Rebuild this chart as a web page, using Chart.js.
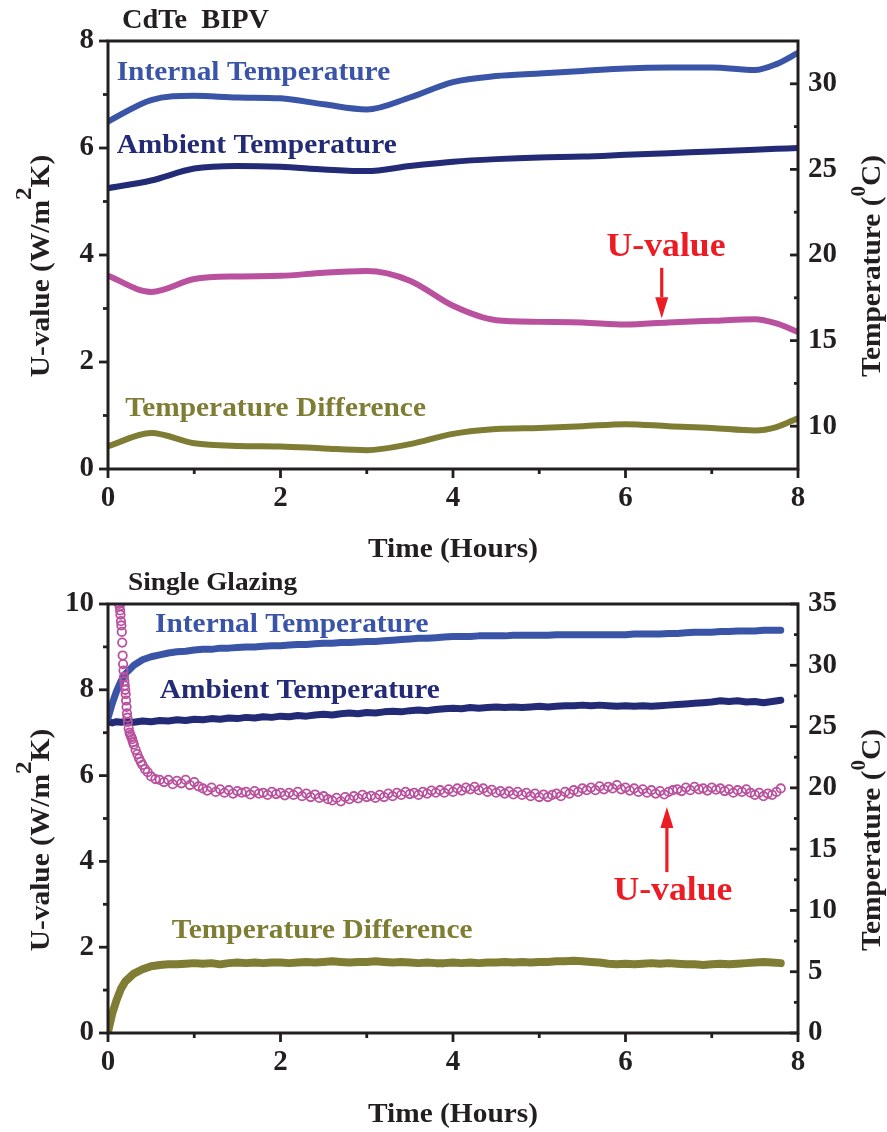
<!DOCTYPE html>
<html>
<head>
<meta charset="utf-8">
<script src="https://cdn.jsdelivr.net/npm/chart.js@4.4.1/dist/chart.umd.min.js"></script>
<style>
  html, body { margin: 0; padding: 0; background: #fff; }
  canvas { display: block; }
</style>
</head>
<body>
<canvas id="topChart" width="887" height="570"></canvas>
<canvas id="bottomChart" width="887" height="562"></canvas>
<script>
// ---- CdTe BIPV (top panel) ----
const topHours    = [0, 0.5, 1, 1.5, 2, 2.5, 3, 3.5, 4, 4.5, 5, 5.5, 6, 6.5, 7, 7.5, 7.75, 8];
const topInternal = [27.8, 29.05, 29.3, 29.2, 29.15, 28.8, 28.5, 29.2, 30.1, 30.45, 30.6, 30.75, 30.9, 30.95, 30.95, 30.8, 31.15, 31.8];
const topAmbient  = [23.9, 24.35, 25.05, 25.2, 25.15, 25.0, 24.9, 25.2, 25.45, 25.6, 25.7, 25.75, 25.85, 25.95, 26.05, 26.15, 26.2, 26.25];
const topUValue   = [3.61, 3.31, 3.55, 3.6, 3.61, 3.67, 3.7, 3.52, 3.05, 2.78, 2.75, 2.74, 2.7, 2.74, 2.77, 2.8, 2.72, 2.56];
const topDiff     = [8.83, 9.6, 9.0, 8.85, 8.82, 8.7, 8.6, 8.95, 9.55, 9.83, 9.9, 10.0, 10.12, 10.0, 9.9, 9.75, 9.95, 10.47];

// ---- Single Glazing (bottom panel) ----
const botHours = [0, 0.05, 0.1, 0.15, 0.2,
  0.3, 0.4, 0.5, 0.6, 0.7, 0.8, 0.9, 1,
  1.1, 1.2, 1.3, 1.4, 1.5, 1.6, 1.7, 1.8, 1.9, 2,
  2.1, 2.2, 2.3, 2.4, 2.5, 2.6, 2.7, 2.8, 2.9, 3,
  3.1, 3.2, 3.3, 3.4, 3.5, 3.6, 3.7, 3.8, 3.9, 4,
  4.1, 4.2, 4.3, 4.4, 4.5, 4.6, 4.7, 4.8, 4.9, 5,
  5.1, 5.2, 5.3, 5.4, 5.5, 5.6, 5.7, 5.8, 5.9, 6,
  6.1, 6.2, 6.3, 6.4, 6.5, 6.6, 6.7, 6.8, 6.9, 7,
  7.1, 7.2, 7.3, 7.4, 7.5, 7.6, 7.7, 7.8];
const botInternal = [25.7, 26.9, 27.9, 28.7, 29.3,
  30.0, 30.45, 30.7, 30.85, 31.0, 31.1, 31.15, 31.25,
  31.3, 31.3, 31.4, 31.4, 31.45, 31.5, 31.5, 31.55, 31.6, 31.6,
  31.65, 31.7, 31.7, 31.75, 31.8, 31.8, 31.85, 31.85, 31.9, 31.95,
  31.95, 32.0, 32.05, 32.1, 32.15, 32.2, 32.2, 32.25, 32.3, 32.35,
  32.35, 32.35, 32.4, 32.4, 32.4, 32.4, 32.45, 32.45, 32.45, 32.45,
  32.45, 32.5, 32.5, 32.5, 32.5, 32.5, 32.5, 32.5, 32.5, 32.5,
  32.55, 32.55, 32.55, 32.55, 32.6, 32.6, 32.65, 32.7, 32.7, 32.7,
  32.75, 32.75, 32.8, 32.8, 32.8, 32.85, 32.85, 32.85];
const botAmbient = [25.4, 25.3, 25.4, 25.35, 25.4,
  25.35, 25.45, 25.4, 25.5, 25.45, 25.55, 25.5, 25.6,
  25.55, 25.65, 25.6, 25.7, 25.65, 25.75, 25.7, 25.8, 25.75, 25.85,
  25.8, 25.9, 25.85, 25.95, 26.0, 25.95, 26.05, 26.1, 26.05, 26.15,
  26.1, 26.2, 26.25, 26.2, 26.3, 26.35, 26.3, 26.4, 26.45, 26.5,
  26.45, 26.55, 26.5, 26.55, 26.6, 26.55, 26.6, 26.55, 26.6, 26.65,
  26.6, 26.65, 26.7, 26.7, 26.75, 26.7, 26.75, 26.7, 26.65, 26.7,
  26.65, 26.7, 26.65, 26.7, 26.75, 26.8, 26.85, 26.9, 26.95, 27.0,
  27.1, 27.05, 27.1, 27.0, 27.05, 26.95, 27.05, 27.15];
const botDiff = [0.1, 1.6, 2.7, 3.6, 4.2,
  4.85, 5.2, 5.45, 5.55, 5.6, 5.6, 5.65, 5.7,
  5.65, 5.7, 5.6, 5.7, 5.75, 5.7, 5.75, 5.7, 5.75, 5.75,
  5.7, 5.75, 5.8, 5.75, 5.8, 5.85, 5.8, 5.75, 5.8, 5.8,
  5.85, 5.8, 5.75, 5.8, 5.75, 5.7, 5.75, 5.7, 5.7, 5.75,
  5.7, 5.75, 5.7, 5.75, 5.75, 5.8, 5.75, 5.8, 5.75, 5.8,
  5.8, 5.85, 5.85, 5.9, 5.85, 5.8, 5.75, 5.65, 5.6, 5.65,
  5.6, 5.65, 5.7, 5.65, 5.7, 5.65, 5.6, 5.6, 5.55, 5.6,
  5.65, 5.6, 5.65, 5.7, 5.75, 5.8, 5.75, 5.7];
const uHours = [0.13, 0.135, 0.14, 0.145, 0.15, 0.155, 0.16, 0.165, 0.17, 0.175,
  0.18, 0.185, 0.19, 0.195, 0.2, 0.205, 0.21, 0.215, 0.22, 0.225,
  0.23, 0.24, 0.25, 0.26, 0.27, 0.28, 0.29, 0.3, 0.32, 0.34,
  0.36, 0.38, 0.4, 0.43, 0.46, 0.5, 0.55,
  0.6, 0.65, 0.7, 0.75, 0.8, 0.85, 0.9, 0.95, 1, 1.05,
  1.1, 1.15, 1.2, 1.25, 1.3, 1.35, 1.4, 1.45, 1.5, 1.55,
  1.6, 1.65, 1.7, 1.75, 1.8, 1.85, 1.9, 1.95, 2, 2.05,
  2.1, 2.15, 2.2, 2.25, 2.3, 2.35, 2.4, 2.45, 2.5, 2.55,
  2.6, 2.65, 2.7, 2.75, 2.8, 2.85, 2.9, 2.95, 3, 3.05,
  3.1, 3.15, 3.2, 3.25, 3.3, 3.35, 3.4, 3.45, 3.5, 3.55,
  3.6, 3.65, 3.7, 3.75, 3.8, 3.85, 3.9, 3.95, 4, 4.05,
  4.1, 4.15, 4.2, 4.25, 4.3, 4.35, 4.4, 4.45, 4.5, 4.55,
  4.6, 4.65, 4.7, 4.75, 4.8, 4.85, 4.9, 4.95, 5, 5.05,
  5.1, 5.15, 5.2, 5.25, 5.3, 5.35, 5.4, 5.45, 5.5, 5.55,
  5.6, 5.65, 5.7, 5.75, 5.8, 5.85, 5.9, 5.95, 6, 6.05,
  6.1, 6.15, 6.2, 6.25, 6.3, 6.35, 6.4, 6.45, 6.5, 6.55,
  6.6, 6.65, 6.7, 6.75, 6.8, 6.85, 6.9, 6.95, 7, 7.05,
  7.1, 7.15, 7.2, 7.25, 7.3, 7.35, 7.4, 7.45, 7.5, 7.55,
  7.6, 7.65, 7.7, 7.75, 7.8];
const uBottom = [10.0, 9.95, 9.85, 9.75, 9.6, 9.5, 9.35, 9.1, 8.8, 8.6,
  8.45, 8.3, 8.2, 8.1, 8.0, 7.9, 7.75, 7.6, 7.45, 7.35,
  7.25, 7.1, 7.0, 6.95, 6.9, 6.85, 6.78, 6.72, 6.6, 6.5,
  6.4, 6.32, 6.25, 6.15, 6.08, 5.98, 5.92,
  5.9, 5.85, 5.9, 5.8, 5.88, 5.82, 5.9, 5.78, 5.85, 5.75,
  5.7, 5.65, 5.72, 5.62, 5.68, 5.6, 5.66, 5.58, 5.64, 5.6,
  5.62, 5.56, 5.64, 5.58, 5.6, 5.55, 5.62, 5.57, 5.6, 5.54,
  5.6, 5.55, 5.62, 5.52, 5.58, 5.5, 5.56, 5.48, 5.52, 5.45,
  5.42, 5.48, 5.4, 5.5, 5.45, 5.52, 5.47, 5.55, 5.5, 5.53,
  5.48, 5.55, 5.5, 5.58, 5.52, 5.6, 5.55, 5.62, 5.57, 5.6,
  5.55, 5.62, 5.58, 5.65, 5.6, 5.66, 5.6, 5.68, 5.62, 5.7,
  5.65, 5.72, 5.68, 5.74, 5.66, 5.7, 5.62, 5.67, 5.6, 5.64,
  5.58, 5.63, 5.56, 5.62, 5.55, 5.6, 5.52, 5.58, 5.5, 5.56,
  5.5, 5.55, 5.58, 5.52, 5.62, 5.58, 5.66, 5.62, 5.7, 5.66,
  5.72, 5.66, 5.75, 5.68, 5.74, 5.7, 5.78, 5.68, 5.72, 5.65,
  5.7, 5.62, 5.68, 5.6, 5.66, 5.58, 5.64, 5.56, 5.62, 5.66,
  5.68, 5.64, 5.72, 5.66, 5.74, 5.68, 5.7, 5.65, 5.72, 5.67,
  5.7, 5.64, 5.68, 5.6, 5.66, 5.62, 5.68, 5.6, 5.55, 5.6,
  5.52, 5.58, 5.55, 5.62, 5.7];

// tick labels
const xTicks = [0, 2, 4, 6, 8];
const topUTicks = [0, 2, 4, 6, 8];
const topTempTicks = [10, 15, 20, 25, 30];
const botUTicks = [0, 2, 4, 6, 8, 10];
const botTempTicks = [0, 5, 10, 15, 20, 25, 30, 35];

const FONT = '"Liberation Serif", "Times New Roman", serif';
const STRETCH = 1.05;
const colors = {
    internal: '#3a55a7',
    ambient: '#232a76',
    uvalue: '#b9519e',
    diff: '#7e7d33',
    arrow: '#ec1c24',
    axis: '#231f20'
};

function points(hours, values) {
    return hours.map((h, i) => ({ x: h, y: values[i] }));
}

function mids(arr) {
    const out = [];
    for (let i = 1; i < arr.length; i++) out.push((arr[i - 1] + arr[i]) / 2);
    return out;
}

function drawText(ctx, str, x, y, size, color, align) {
    ctx.save();
    ctx.translate(x, y);
    ctx.scale(STRETCH, 1);
    ctx.font = `bold ${size}px ${FONT}`;
    ctx.fillStyle = color;
    ctx.textAlign = align || 'left';
    ctx.textBaseline = 'alphabetic';
    ctx.fillText(str, 0, 0);
    ctx.restore();
}

// rotated axis title, parts = [[text, isSuperscript], ...]
function drawVTitle(ctx, parts, x, yMid, size, supScale, supRaise) {
    ctx.save();
    ctx.translate(x, yMid);
    ctx.rotate(-Math.PI / 2);
    ctx.scale(STRETCH, 1);
    ctx.fillStyle = colors.axis;
    ctx.textBaseline = 'alphabetic';
    const fontFor = sup => `bold ${sup ? Math.round(size * supScale) : size}px ${FONT}`;
    let total = 0;
    parts.forEach(([t, sup]) => { ctx.font = fontFor(sup); total += ctx.measureText(t).width; });
    let pos = -total / 2;
    parts.forEach(([t, sup]) => {
        ctx.font = fontFor(sup);
        ctx.fillText(t, pos, sup ? -size * supRaise : 0);
        pos += ctx.measureText(t).width;
    });
    ctx.restore();
}

function drawArrow(ctx, x, yTail, yTip) {
    const dir = Math.sign(yTip - yTail);
    const head = 21, half = 6.5;
    ctx.save();
    ctx.strokeStyle = colors.arrow;
    ctx.fillStyle = colors.arrow;
    ctx.lineWidth = 3.2;
    ctx.beginPath();
    ctx.moveTo(x, yTail);
    ctx.lineTo(x, yTip - dir * head);
    ctx.stroke();
    ctx.beginPath();
    ctx.moveTo(x - half, yTip - dir * head);
    ctx.lineTo(x + half, yTip - dir * head);
    ctx.lineTo(x, yTip);
    ctx.closePath();
    ctx.fill();
    ctx.restore();
}

// frame, origin-style tick marks, titles and in-plot labels
function decor(cfg) {
    return {
        id: 'decor',
        afterDraw(chart) {
            const ctx = chart.ctx;
            const { left, right, top, bottom } = chart.chartArea;
            const sx = chart.scales.x, sy = chart.scales.y, sy2 = chart.scales.y2;
            ctx.save();
            ctx.strokeStyle = colors.axis;
            ctx.lineWidth = 3;
            ctx.strokeRect(left, top, right - left, bottom - top);
            ctx.lineWidth = 2.8;
            const seg = (x1, y1, x2, y2) => { ctx.beginPath(); ctx.moveTo(x1, y1); ctx.lineTo(x2, y2); ctx.stroke(); };
            cfg.xTicks.forEach(v => { const p = sx.getPixelForValue(v); seg(p, bottom, p, bottom + 9); });
            mids(cfg.xTicks).forEach(v => { const p = sx.getPixelForValue(v); seg(p, bottom, p, bottom + 5); });
            cfg.yTicks.forEach(v => { const p = sy.getPixelForValue(v); seg(left - 9, p, left, p); });
            mids(cfg.yTicks).forEach(v => { const p = sy.getPixelForValue(v); seg(left - 5, p, left, p); });
            cfg.y2Ticks.forEach(v => { const p = sy2.getPixelForValue(v); seg(right - 8, p, right + 1, p); });
            mids(cfg.y2Ticks).forEach(v => { const p = sy2.getPixelForValue(v); seg(right - 4, p, right, p); });
            ctx.restore();

            drawText(ctx, cfg.title.text, cfg.title.x, cfg.title.y, cfg.title.size, colors.axis);
            drawText(ctx, 'Time (Hours)', (left + right) / 2, cfg.xTitleY, 28, colors.axis, 'center');
            drawVTitle(ctx, [['U-value (W/m', false], ['2', true], ['K)', false]], 49, cfg.vTitleMid, 28, 0.85, 0.66);
            drawVTitle(ctx, [['Temperature (', false], ['0', true], ['C)', false]], 880, cfg.vTitleMid, 28, 0.72, 0.55);

            cfg.notes.forEach(n => {
                drawText(ctx, n.text, sx.getPixelForValue(n.x), sy.getPixelForValue(n.y), n.size, n.color, n.align);
            });
            const a = cfg.arrow;
            drawArrow(ctx, sx.getPixelForValue(a.x), sy.getPixelForValue(a.from), sy.getPixelForValue(a.to));
        }
    };
}

function axis(pos, min, max, ticks, pad, fit) {
    return {
        type: 'linear', position: pos, min: min, max: max,
        grid: { display: false, drawTicks: false },
        border: { display: false },
        ticks: {
            color: colors.axis, padding: pad, maxRotation: 0, autoSkip: false,
            font: { family: FONT, weight: 'bold', size: 29 }
        },
        afterBuildTicks: s => { s.ticks = ticks.map(v => ({ value: v })); },
        afterFit: fit
    };
}

function lineSet(hours, values, color, width, axisId, smooth) {
    return {
        data: points(hours, values),
        borderColor: color,
        borderWidth: width,
        pointRadius: 0,
        fill: false,
        yAxisID: axisId,
        borderCapStyle: 'round',
        borderJoinStyle: 'round',
        cubicInterpolationMode: smooth ? 'monotone' : 'default',
        tension: 0
    };
}

const baseOptions = {
    responsive: false,
    animation: false,
    devicePixelRatio: 1,
    plugins: { legend: { display: false }, tooltip: { enabled: false } }
};

new Chart(document.getElementById('topChart').getContext('2d'), {
    type: 'line',
    data: {
        datasets: [
            lineSet(topHours, topUValue, colors.uvalue, 6, 'y', true),
            lineSet(topHours, topInternal, colors.internal, 6, 'y2', true),
            lineSet(topHours, topAmbient, colors.ambient, 6, 'y2', true),
            lineSet(topHours, topDiff, colors.diff, 6, 'y2', true)
        ]
    },
    options: Object.assign({}, baseOptions, {
        layout: { padding: { top: 41, bottom: 11, left: 0, right: 0 } },
        scales: {
            x: axis('bottom', 0, 8, xTicks, 12, s => { s.height = 90; }),
            y: axis('left', 0, 8, topUTicks, 14, s => { s.width = 108; }),
            y2: axis('right', 7.5, 32.5, topTempTicks, 10, s => { s.width = 89; })
        }
    }),
    plugins: [decor({
        xTicks: xTicks, yTicks: topUTicks, y2Ticks: topTempTicks,
        title: { text: 'CdTe  BIPV', x: 122, y: 28, size: 27 },
        xTitleY: 557,
        vTitleMid: 266,
        notes: [
            { text: 'Internal Temperature', x: 0.1, y: 7.27, size: 28, color: colors.internal },
            { text: 'Ambient Temperature', x: 0.1, y: 5.91, size: 28, color: colors.ambient },
            { text: 'Temperature Difference', x: 0.2, y: 0.99, size: 28, color: colors.diff },
            { text: 'U-value', x: 6.47, y: 3.98, size: 34, color: colors.arrow, align: 'center' }
        ],
        arrow: { x: 6.42, from: 3.76, to: 2.82 }
    })]
});

new Chart(document.getElementById('bottomChart').getContext('2d'), {
    type: 'line',
    data: {
        datasets: [
            {
                data: points(uHours, uBottom),
                showLine: false,
                pointStyle: 'circle',
                pointRadius: 4.2,
                pointBorderWidth: 1.8,
                pointBorderColor: colors.uvalue,
                pointBackgroundColor: 'rgba(255,255,255,0)',
                yAxisID: 'y'
            },
            lineSet(botHours, botInternal, colors.internal, 7, 'y2', false),
            lineSet(botHours, botAmbient, colors.ambient, 7, 'y2', false),
            lineSet(botHours, botDiff, colors.diff, 8, 'y2', false)
        ]
    },
    options: Object.assign({}, baseOptions, {
        layout: { padding: { top: 34, bottom: 9, left: 0, right: 0 } },
        scales: {
            x: axis('bottom', 0, 8, xTicks, 12, s => { s.height = 90; }),
            y: axis('left', 0, 10, botUTicks, 14, s => { s.width = 108; }),
            y2: axis('right', 0, 35, botTempTicks, 10, s => { s.width = 89; })
        }
    }),
    plugins: [decor({
        xTicks: xTicks, yTicks: botUTicks, y2Ticks: botTempTicks,
        title: { text: 'Single Glazing', x: 128, y: 20, size: 26 },
        xTitleY: 552,
        vTitleMid: 270,
        notes: [
            { text: 'Internal Temperature', x: 0.545, y: 9.35, size: 28, color: colors.internal },
            { text: 'Ambient Temperature', x: 0.6, y: 7.81, size: 28, color: colors.ambient },
            { text: 'Temperature Difference', x: 0.74, y: 2.21, size: 28, color: colors.diff },
            { text: 'U-value', x: 6.55, y: 3.1, size: 34, color: colors.arrow, align: 'center' }
        ],
        arrow: { x: 6.48, from: 3.75, to: 5.27 }
    })]
});
</script>
</body>
</html>
